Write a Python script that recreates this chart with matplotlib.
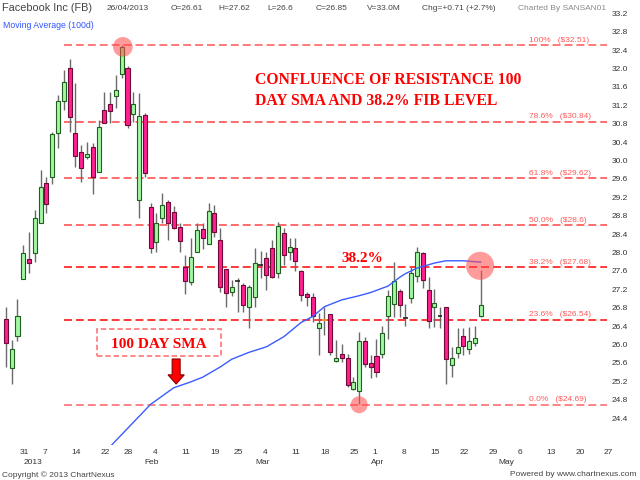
import matplotlib
matplotlib.use('Agg')
import matplotlib.pyplot as plt
from matplotlib.patches import Rectangle
import matplotlib.transforms as mtransforms
import numpy as np

plt.rcParams['font.family'] = ['Liberation Sans', 'DejaVu Sans']

# trading-day index of the first candle (27 Dec 2012); index 0 is 31 Dec 2012
FIRST_DAY = -2

OPEN = [26.55, 25.48, 26.18, 27.42, 27.86, 27.99, 28.64, 29.51, 29.64, 30.60,
        31.29, 32.01, 30.60, 30.18, 30.08, 30.29, 29.75, 31.10, 31.23, 31.40,
        31.88, 32.01, 31.01, 29.14, 30.99, 28.99, 28.23, 28.75, 29.10, 28.88,
        28.55, 27.68, 27.36, 28.01, 28.51, 28.18, 28.86, 28.27, 27.64, 27.14,
        27.37, 27.29, 26.82, 27.03, 27.74, 27.88, 28.10, 27.55, 28.42, 28.01,
        28.10, 27.60, 27.10, 27.03, 26.36, 26.54, 26.66, 25.64, 25.79, 25.70,
        25.03, 24.99, 26.07, 25.59, 25.75, 25.79, 26.62, 26.88, 27.16, 26.57,
        27.01, 27.49, 27.99, 27.18, 26.82, 26.62, 26.82, 25.55, 25.81, 26.18,
        25.90, 26.03, 26.61]
HIGH = [26.82, 26.10, 26.99, 28.16, 28.44, 28.92, 29.79, 29.64, 30.62, 31.42,
        31.97, 32.21, 31.68, 30.34, 30.40, 30.38, 30.88, 31.49, 31.49, 31.86,
        32.51, 32.05, 31.49, 31.47, 31.03, 29.07, 28.86, 29.29, 29.14, 29.00,
        28.64, 27.95, 28.32, 28.64, 28.64, 29.08, 29.03, 28.53, 27.64, 27.40,
        27.44, 27.34, 27.29, 28.10, 28.03, 28.01, 28.27, 28.66, 28.53, 28.32,
        28.32, 27.62, 27.14, 27.12, 26.69, 26.81, 26.66, 26.10, 26.01, 25.79,
        25.29, 26.27, 26.16, 25.77, 26.12, 26.40, 27.18, 27.79, 27.21, 26.88,
        27.68, 28.12, 28.01, 27.47, 27.21, 26.82, 26.82, 25.94, 26.36, 26.36,
        26.38, 26.40, 27.62]
LOW = [25.51, 25.14, 26.07, 27.42, 27.55, 27.79, 28.64, 28.86, 29.49, 30.27,
       31.10, 30.62, 29.86, 29.53, 30.03, 29.27, 29.74, 30.82, 30.82, 31.14,
       31.79, 30.71, 30.84, 28.75, 29.64, 27.99, 28.01, 28.64, 28.27, 28.51,
       28.01, 27.10, 27.29, 28.01, 28.08, 28.18, 28.33, 27.14, 26.82, 27.06,
       26.71, 26.71, 26.36, 26.81, 27.44, 27.18, 27.44, 27.45, 27.73, 27.84,
       27.60, 26.95, 26.83, 26.49, 25.77, 26.21, 25.78, 25.62, 25.63, 25.08,
       25.00, 24.70, 25.51, 25.27, 25.29, 25.70, 26.12, 26.60, 26.60, 26.40,
       26.90, 27.36, 27.23, 26.36, 26.38, 26.36, 25.14, 25.29, 25.70, 25.77,
       25.80, 25.97, 26.60]
CLOSE = [26.03, 25.90, 26.62, 27.99, 27.77, 28.75, 29.42, 29.05, 30.58, 31.29,
         31.71, 30.95, 30.10, 29.84, 30.14, 29.64, 30.73, 30.82, 31.08, 31.53,
         32.47, 30.77, 31.23, 30.97, 29.73, 28.10, 28.64, 29.03, 28.64, 28.53,
         28.25, 27.38, 27.90, 28.49, 28.32, 28.90, 28.44, 27.25, 27.12, 27.25,
         27.39, 26.86, 27.25, 27.77, 27.72, 27.51, 27.47, 28.57, 27.95, 28.12,
         27.82, 27.08, 27.04, 26.62, 26.47, 26.54, 25.84, 25.70, 25.70, 25.12,
         25.18, 26.07, 25.57, 25.51, 25.40, 26.25, 27.05, 27.38, 26.86, 26.59,
         27.55, 28.01, 27.40, 26.51, 26.90, 26.63, 25.68, 25.70, 25.94, 25.97,
         26.07, 26.14, 26.85]

# 100 day moving average, read at some trading days
SMA_DAY = [16, 23, 27, 30, 32, 35, 37, 40, 43, 46, 49, 51, 53, 56, 59, 61,
           64, 66, 67, 69, 72, 74, 77, 80]
SMA_VAL = [23.78, 24.70, 25.06, 25.19, 25.29, 25.51, 25.68, 25.83, 25.95,
           26.17, 26.48, 26.61, 26.82, 26.97, 27.06, 27.13, 27.27, 27.46,
           27.54, 27.66, 27.77, 27.82, 27.82, 27.79]

FIB_PCT = ['100%', '78.6%', '61.8%', '50.0%', '38.2%', '23.6%', '0.0%']
FIB_PRICE = [32.51, 30.84, 29.62, 28.6, 27.68, 26.54, 24.69]
FIB_TEXT = ['($32.51)', '($30.84)', '($29.62)', '($28.6)', '($27.68)',
            '($26.54)', '($24.69)']
FIB_COLOR = ['#ff7070', '#ff6060', '#ff6060', '#ff6060', '#ff2a2a', '#ff2a2a',
             '#ff7a7a']

DAY_TICKS = [0, 4, 9, 14, 18, 23, 28, 33, 37, 42, 47, 52, 57, 61, 66, 71, 76,
             81, 86, 91, 96, 101]
DAY_LABELS = ['31', '7', '14', '22', '28', '4', '11', '19', '25', '4', '11',
              '18', '25', '1', '8', '15', '22', '29', '6', '13', '20', '27']
MONTH_TICKS = [1, 22, 41, 61, 83]
MONTH_LABELS = ['2013', 'Feb', 'Mar', 'Apr', 'May']

fig = plt.figure(figsize=(6.4, 4.8), dpi=100)
ax = fig.add_axes([0, 1 - 445 / 480., 607 / 640., 440 / 480.])
ax.set_xlim(-3.02, 101.81)
ax.set_ylim(23.815, 33.38)
for s in ax.spines.values():
    s.set_visible(False)

days = np.arange(FIRST_DAY, FIRST_DAY + len(OPEN))
o = np.array(OPEN)
h = np.array(HIGH)
l = np.array(LOW)
c = np.array(CLOSE)

ax.vlines(days, l, h, color='#6a6a6a', lw=1, zorder=2)
up = c > o
down = c < o
doji = np.abs(c - o) < 0.03
up &= ~doji
down &= ~doji
ax.bar(days[up], (c - o)[up], bottom=o[up], width=0.7, color='#a3f7a3',
       edgecolor='#1f5f1f', lw=0.8, zorder=3)
ax.bar(days[down], (o - c)[down], bottom=c[down], width=0.7, color='#ff1f8f',
       edgecolor='#6e0a36', lw=0.8, zorder=3)
for d, oo, cc in zip(days[doji], o[doji], c[doji]):
    col = '#ff8c1a' if oo == cc else '#222222'
    ax.hlines((oo + cc) / 2, d - 0.4, d + 0.4, color=col, lw=1.2, zorder=3)

ax.plot(SMA_DAY, SMA_VAL, color='#3a5cff', lw=1, zorder=4)

# fibonacci levels
for pct, price, txt, col in zip(FIB_PCT, FIB_PRICE, FIB_TEXT, FIB_COLOR):
    ax.plot([8.03, 101.81], [price, price], color=col, lw=1.3,
            dashes=(4.4, 2.2), zorder=1)
    ax.text(88.3, price + 0.03, pct + '   ' + txt, color='#ff5a5a',
            fontsize=6, va='bottom', ha='left', zorder=5)

# highlight circles
ax.scatter([18.2, 59, 79.9], [32.47, 24.69, 27.71], s=[200, 150, 410],
           color='#ff4a4a', alpha=0.55, lw=0, zorder=6)

serif = dict(family='Liberation Serif', weight='bold', color='#ff0000')
ax.text(41.0, 31.75, 'CONFLUENCE OF RESISTANCE 100', va='center',
        fontsize=11.3, **serif)
ax.text(41.0, 31.29, 'DAY SMA AND 38.2% FIB LEVEL', va='center',
        fontsize=11.3, **serif)
ax.text(55.9, 27.88, '38.2%', va='center', fontsize=11, **serif)
ax.text(24.45, 26.01, '100 DAY SMA', va='center', ha='center', fontsize=11,
        **serif)
ax.add_patch(Rectangle((13.75, 25.75), 21.4, 0.59, fill=False,
                       ec='#ff8080', lw=1.3, ls=(0, (3, 1.6)), zorder=5))
ax.arrow(27.4, 25.685, 0, -0.545, width=1.38, head_width=2.8,
         head_length=0.2, length_includes_head=True, fc='#ff0000',
         ec='#8a0000', lw=0.8, zorder=6)

# axis labels
ax.yaxis.tick_right()
ax.set_yticks(np.arange(24.4, 33.21, 0.4))
ax.set_yticklabels(['%.1f' % v for v in np.arange(24.4, 33.21, 0.4)])
ax.tick_params(axis='y', length=0, pad=3.6, labelsize=6, labelcolor='#333333')
ax.set_xticks([])
trans = mtransforms.blended_transform_factory(ax.transData, ax.transAxes)
for d, lab in zip(DAY_TICKS, DAY_LABELS):
    ax.text(d + 0.3, -0.016, lab, transform=trans, fontsize=6, color='#333333',
            ha='left', va='center', clip_on=False)
for d, lab in zip(MONTH_TICKS, MONTH_LABELS):
    ax.text(d, -0.039, lab, transform=trans, fontsize=6, color='#333333',
            ha='left', va='center', clip_on=False)

# header and footer
fig.text(2 / 640., 1 - 8 / 480., 'Facebook Inc (FB)', fontsize=7.8,
         color='#444444', va='center')
head = [(107, '26/04/2013'), (171, 'O=26.61'), (218, 'H=27.62'),
        (267, 'L=26.6'), (316, 'C=26.85'), (367, 'V=33.0M'),
        (422, 'Chg=+0.71 (+2.7%)')]
for px, txt in head:
    fig.text(px / 640., 1 - 8 / 480., txt, fontsize=6, color='#444444',
             va='center')
fig.text(518 / 640., 1 - 8 / 480., 'Charted By SANSAN01', fontsize=6,
         color='#8a8a8a', va='center')
fig.text(3 / 640., 1 - 26 / 480., 'Moving Average (100d)', fontsize=6.3,
         color='#3355ff', va='center')
fig.text(2 / 640., 1 - 475 / 480., 'Copyright \u00a9 2013 ChartNexus',
         fontsize=6, color='#444444', va='center')
fig.text(637 / 640., 1 - 475 / 480., 'Powered by www.chartnexus.com',
         fontsize=6, color='#444444', va='center', ha='right')

fig.savefig('out.png', dpi=100)
